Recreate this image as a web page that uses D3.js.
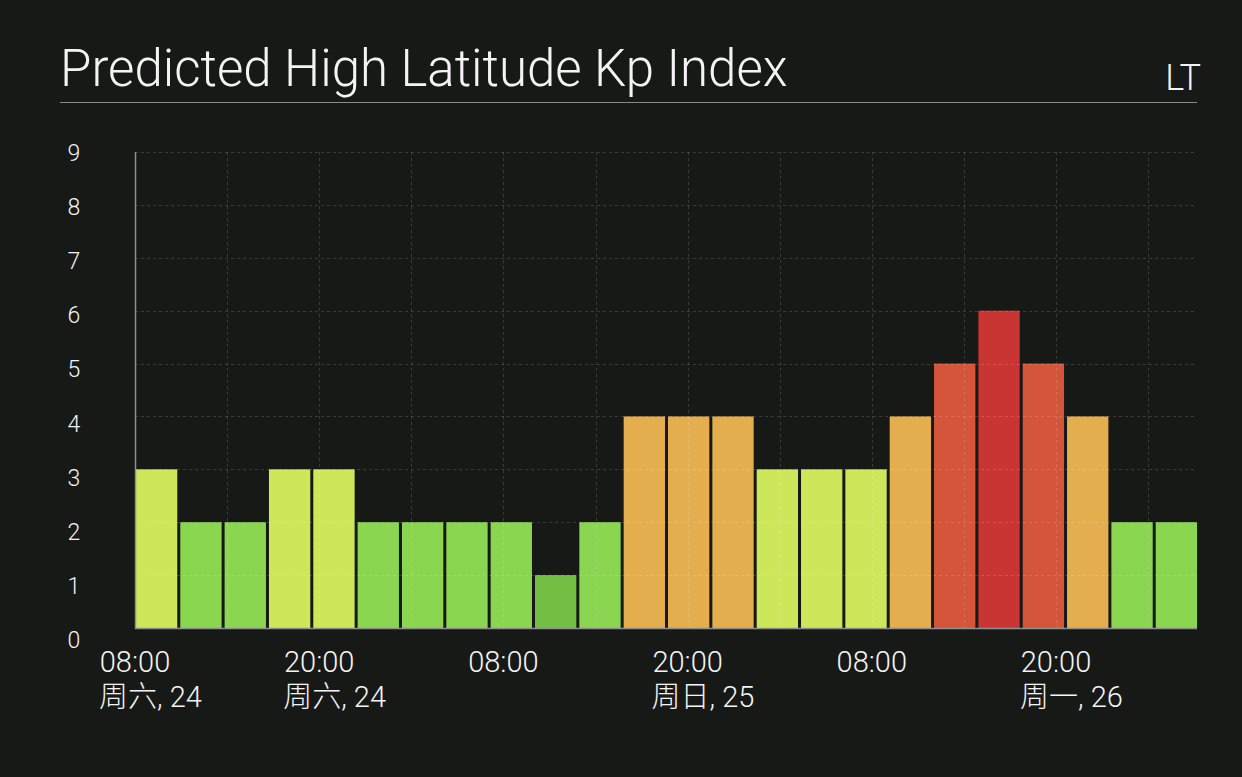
<!DOCTYPE html>
<html>
<head>
<meta charset="utf-8">
<script src="https://cdn.jsdelivr.net/npm/d3@7"></script>
<style>
  html, body { margin: 0; padding: 0; background: #171917; }
  svg { display: block; }
  text { font-family: Roboto, "Noto Sans CJK SC", sans-serif; font-weight: 300; fill: #f4f4f4; }
</style>
</head>
<body>
<svg id="chart" width="1242" height="777"></svg>
<script>
// ---- data ----
const title = "Predicted High Latitude Kp Index";
const timeZoneLabel = "LT";
const kpValues = [3, 2, 2, 3, 3, 2, 2, 2, 2, 1, 2, 4, 4, 4, 3, 3, 3, 4, 5, 6, 5, 4, 2, 2];
const kpLevels = [1, 2, 3, 4, 5, 6];
const kpColors = ["#73bf43", "#8bd651", "#cde75a", "#e4ae4f", "#d5553a", "#c83532"];
const yTicks = [0, 1, 2, 3, 4, 5, 6, 7, 8, 9];
const xTickTimeLabels = ["08:00", "20:00", "08:00", "20:00", "08:00", "20:00"];
const xTickDateLabels = ["周六, 24", "周六, 24", "", "周日, 25", "", "周一, 26"];

// ---- layout ----
const W = 1242, H = 777;
const plot = { left: 135, right: 1197, top: 152, bottom: 628 };
const svg = d3.select("#chart");
svg.append("rect").attr("width", W).attr("height", H).attr("fill", "#171917");

const t0 = new Date(2024, 1, 24, 8);
const x = d3.scaleTime()
  .domain([t0, d3.timeHour.offset(t0, 12)])
  .range([plot.left, plot.left + 184.2]);
const xBand = d3.scaleBand()
  .domain(d3.range(kpValues.length))
  .range([plot.left + 0.5, plot.right + 0.5])
  .paddingInner(0.068).paddingOuter(0.01);
const y = d3.scaleLinear().domain([0, 9]).range([plot.bottom, plot.top]);
const yLabel = d3.scaleLinear().domain([0, 9]).range([640, 153]);
const color = d3.scaleOrdinal().domain(kpLevels).range(kpColors);

// title
svg.append("text").attr("x", 60).attr("y", 86)
  .attr("font-size", 51).text(title);
svg.append("text").attr("x", 1201).attr("y", 90).attr("text-anchor", "end")
  .attr("font-size", 36).text(timeZoneLabel);
svg.append("line").attr("x1", 60).attr("x2", 1197).attr("y1", 102.5).attr("y2", 102.5)
  .attr("stroke", "#8a8a8a").attr("stroke-width", 1);

// bars
svg.append("g").selectAll("rect").data(kpValues).join("rect")
  .attr("x", (d, i) => xBand(i))
  .attr("width", xBand.bandwidth())
  .attr("y", d => y(d))
  .attr("height", d => y(0) - y(d))
  .attr("fill", d => color(d));

// grid (drawn over bars, translucent)
const grid = svg.append("g").attr("stroke", "#ffffff").attr("stroke-opacity", 0.15)
  .attr("stroke-dasharray", "3,3");
grid.selectAll("line.h").data(yTicks.filter(d => d > 0)).join("line")
  .attr("x1", plot.left).attr("x2", plot.right)
  .attr("y1", d => Math.round(y(d)) + 0.5).attr("y2", d => Math.round(y(d)) + 0.5);
const gridTimes = [];
for (let k = 1; x(d3.timeHour.offset(t0, 6 * k)) < plot.right; k++) gridTimes.push(d3.timeHour.offset(t0, 6 * k));
grid.selectAll("line.v").data(gridTimes).join("line")
  .attr("x1", d => Math.round(x(d)) + 0.5).attr("x2", d => Math.round(x(d)) + 0.5)
  .attr("y1", plot.top).attr("y2", plot.bottom);

// axes lines
svg.append("line").attr("x1", plot.left + 0.5).attr("x2", plot.left + 0.5)
  .attr("y1", plot.top).attr("y2", plot.bottom + 0.5)
  .attr("stroke", "#8e8e8e").attr("stroke-width", 1.5);
svg.append("line").attr("x1", plot.left).attr("x2", plot.right)
  .attr("y1", plot.bottom + 0.5).attr("y2", plot.bottom + 0.5)
  .attr("stroke", "#8e8e8e").attr("stroke-width", 1.5);

// y labels
svg.append("g").selectAll("text").data(yTicks).join("text")
  .attr("x", 74).attr("y", d => yLabel(d))
  .attr("dy", "0.35em").attr("text-anchor", "middle")
  .attr("font-size", 23).text(d => d);

// x labels
const labelTimes = xTickTimeLabels.map((_, i) => d3.timeHour.offset(t0, 12 * i));
const xl = svg.append("g").selectAll("g").data(labelTimes).join("g")
  .attr("transform", d => `translate(${x(d)},0)`);
xl.append("text").attr("y", 672).attr("text-anchor", "middle")
  .attr("font-size", 29).text((d, i) => xTickTimeLabels[i]);
xl.append("text").attr("x", -36).attr("y", 707).attr("text-anchor", "start")
  .attr("font-size", 29).text((d, i) => xTickDateLabels[i]);
</script>
</body>
</html>
